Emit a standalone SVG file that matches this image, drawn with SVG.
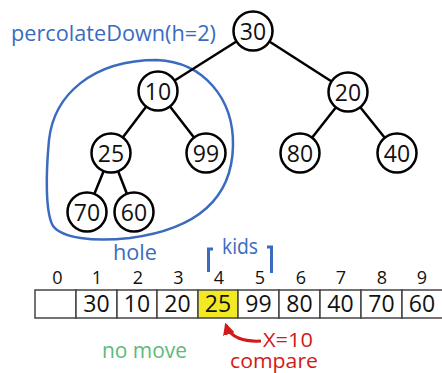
<svg xmlns="http://www.w3.org/2000/svg" width="442" height="373" viewBox="0 0 442 373">
<defs>
<style>
.node circle{fill:#fff;stroke:#000;stroke-width:2.5}
.node text,.val{font-family:"Open Sans",sans-serif;font-size:23px;text-anchor:middle;fill:#111}
.edge{stroke:#000;stroke-width:2.5}
.idx{font-family:"Open Sans",sans-serif;font-size:18px;text-anchor:middle;fill:#111}
.cell{fill:#fff;stroke:#444;stroke-width:1.5}
.blue{fill:#3a6bbf;font-family:"Open Sans",sans-serif;font-size:21px}
.red{fill:#d11a1a;font-family:"Open Sans",sans-serif;font-size:20px}
.green{fill:#5cba7c;font-family:"Open Sans",sans-serif;font-size:21px}
</style>
<marker id="ah" viewBox="0 0 10 10" refX="8" refY="5" markerWidth="4" markerHeight="4" orient="auto">
<path d="M0,0 L10,5 L0,10 z" fill="#d11a1a"/>
</marker>
</defs>
<rect width="442" height="373" fill="#fff"/>
<text class="blue" x="11" y="41" textLength="205" lengthAdjust="spacingAndGlyphs">percolateDown(h=2)</text>
<path d="M157,60 C203,62 234,98 233,146 C232,192 205,228 130,238 C92,242 62,238 53,226 C45,212 46,172 49,140 C54,95 92,60 157,60 Z" fill="none" stroke="#3a6bbf" stroke-width="2.5"/>
<g id="connectors">
<line class="edge" x1="253" y1="31" x2="158" y2="91"/>
<line class="edge" x1="253" y1="31" x2="348" y2="92"/>
<line class="edge" x1="158" y1="91" x2="111" y2="153"/>
<line class="edge" x1="158" y1="91" x2="206" y2="153"/>
<line class="edge" x1="111" y1="153" x2="87" y2="212"/>
<line class="edge" x1="111" y1="153" x2="134" y2="212"/>
<line class="edge" x1="348" y1="92" x2="300" y2="153"/>
<line class="edge" x1="348" y1="92" x2="397" y2="153"/>
<path d="M261,341 C245,342 230,338 226,325" fill="none" stroke="#d11a1a" stroke-width="3" marker-end="url(#ah)"/>
</g>
<g id="n30" class="node"><circle cx="253" cy="31" r="19.5"/><text x="253" y="39.5">30</text></g>
<g id="n10" class="node"><circle cx="158" cy="91" r="19.5"/><text x="158" y="99.5">10</text></g>
<g id="n20" class="node"><circle cx="348" cy="92" r="19.5"/><text x="348" y="100.5">20</text></g>
<g id="n25" class="node"><circle cx="111" cy="153" r="19.5"/><text x="111" y="161.5">25</text></g>
<g id="n99" class="node"><circle cx="206" cy="153" r="19.5"/><text x="206" y="161.5">99</text></g>
<g id="n80" class="node"><circle cx="300" cy="153" r="19.5"/><text x="300" y="161.5">80</text></g>
<g id="n40" class="node"><circle cx="397" cy="153" r="19.5"/><text x="397" y="161.5">40</text></g>
<g id="n70" class="node"><circle cx="87" cy="212" r="19.5"/><text x="87" y="220.5">70</text></g>
<g id="n60" class="node"><circle cx="134" cy="212" r="19.5"/><text x="134" y="220.5">60</text></g>
<text class="blue" x="113" y="260" textLength="44" lengthAdjust="spacingAndGlyphs">hole</text>
<path d="M213,249 H208.5 V272 M267,247 H271.5 V273" fill="none" stroke="#3a6bbf" stroke-width="3"/>
<text class="blue" x="222" y="254" textLength="36" lengthAdjust="spacingAndGlyphs">kids</text>
<g id="array">
<rect class="cell" x="35" y="290" width="41" height="28"/>
<rect class="cell" x="76" y="290" width="41" height="28"/>
<rect class="cell" x="117" y="290" width="40" height="28"/>
<rect class="cell" x="157" y="290" width="41" height="28"/>
<rect class="cell" x="198" y="290" width="40" height="28" style="fill:#f2e823"/>
<rect class="cell" x="238" y="290" width="41" height="28"/>
<rect class="cell" x="279" y="290" width="41" height="28"/>
<rect class="cell" x="320" y="290" width="41" height="28"/>
<rect class="cell" x="361" y="290" width="41" height="28"/>
<rect class="cell" x="402" y="290" width="41" height="28"/>
<text class="idx" x="57.5" y="284">0</text>
<text class="idx" x="97" y="284">1</text>
<text class="idx" x="138" y="284">2</text>
<text class="idx" x="178.5" y="284">3</text>
<text class="idx" x="219" y="284">4</text>
<text class="idx" x="260" y="284">5</text>
<text class="idx" x="301" y="284">6</text>
<text class="idx" x="341" y="284">7</text>
<text class="idx" x="382" y="284">8</text>
<text class="idx" x="422" y="284">9</text>
<text class="val" x="96.5" y="312">30</text>
<text class="val" x="137" y="312">10</text>
<text class="val" x="177.5" y="312">20</text>
<text class="val" x="218" y="312">25</text>
<text class="val" x="258.5" y="312">99</text>
<text class="val" x="299.5" y="312">80</text>
<text class="val" x="340.5" y="312">40</text>
<text class="val" x="381.5" y="312">70</text>
<text class="val" x="422" y="312">60</text>
</g>
<text class="green" x="102" y="358" textLength="85" lengthAdjust="spacingAndGlyphs">no move</text>
<text class="red" x="263" y="346.5" textLength="50" lengthAdjust="spacingAndGlyphs">X=10</text>
<text class="red" x="230" y="368" textLength="88" lengthAdjust="spacingAndGlyphs">compare</text>
</svg>
